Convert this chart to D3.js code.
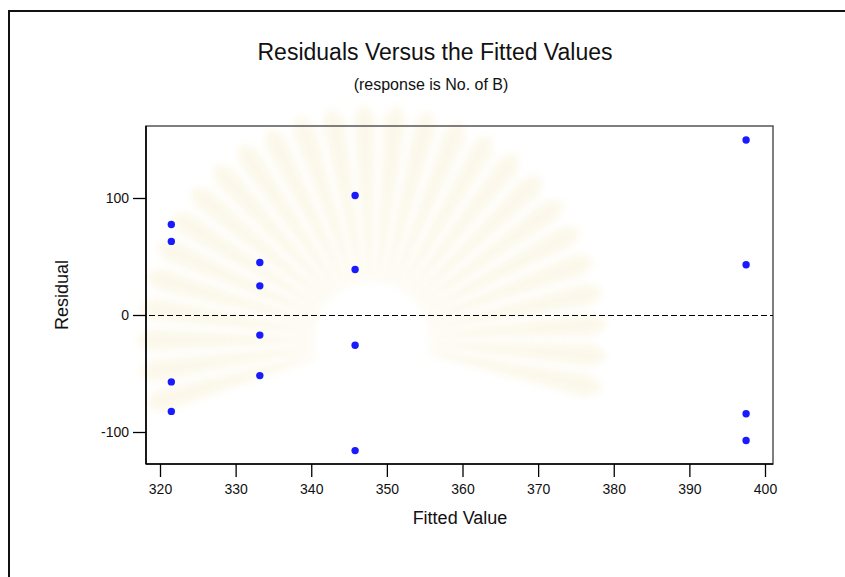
<!DOCTYPE html>
<html>
<head>
<meta charset="utf-8">
<script src="https://cdn.jsdelivr.net/npm/d3@7"></script>
<style>
  html, body { margin: 0; padding: 0; background: #fff; }
  svg { display: block; font-family: "Liberation Sans", Arial, sans-serif; }
</style>
</head>
<body>
<svg id="chart" width="845" height="577"></svg>
<script>
// Fitted values (one per treatment group) and the residuals observed at each
const fittedValues = [321.5, 321.5, 321.5, 321.5,
                      333.2, 333.2, 333.2, 333.2,
                      345.8, 345.8, 345.8, 345.8,
                      397.5, 397.5, 397.5, 397.5];
const residuals    = [77.3, 62.9, -57.2, -82.4,
                      44.9, 24.9, -17.2, -51.8,
                      102.1, 38.9, -25.8, -115.9,
                      149.6, 42.9, -84.4, -107.3];
const xTicks = [320, 330, 340, 350, 360, 370, 380, 390, 400];
const yTicks = [-100, 0, 100];

const titleText = "Residuals Versus the Fitted Values";
const subtitleText = "(response is No. of B)";
const xLabel = "Fitted Value";
const yLabel = "Residual";

const svg = d3.select("#chart");
const plot = { left: 146, top: 126, right: 773, bottom: 464 };

const defs = svg.append("defs");
defs.append("filter").attr("id", "soft")
  .append("feGaussianBlur").attr("stdDeviation", 3.5);

// Page frame
svg.append("rect")
  .attr("x", 9).attr("y", 11)
  .attr("width", 900).attr("height", 700)
  .attr("fill", "#fff").attr("stroke", "#111").attr("stroke-width", 2);

// Faint emblem in the background: a fan of pale rays around a bright disc
const wm = svg.append("g")
  .attr("transform", "translate(372,340)")
  .attr("filter", "url(#soft)")
  .attr("opacity", 0.4);
const rays = d3.range(-196, 17, 8);
wm.selectAll("path.ray").data(rays).join("path")
  .attr("class", "ray")
  .attr("d", a => {
    const r0 = 58, r1 = 250, hw = 3.0;
    const t = a * Math.PI / 180;
    const p = (r, da) => [Math.cos(t + da * Math.PI / 180) * r, Math.sin(t + da * Math.PI / 180) * r];
    const [x0, y0] = p(r0, -hw * 0.7), [x1, y1] = p(r1 * 0.88, -hw);
    const [x2, y2] = p(r1, 0), [x3, y3] = p(r1 * 0.88, hw), [x4, y4] = p(r0, hw * 0.7);
    return `M${x0},${y0}L${x1},${y1}Q${x2},${y2} ${x3},${y3}L${x4},${y4}Z`;
  })
  .attr("fill", "#f7efcf");

const x = d3.scaleLinear().domain([320, 400]).range([160, 765]);
const y = d3.scaleLinear().domain([0, 100]).range([315, 198]);

// Plot frame
svg.append("rect")
  .attr("x", plot.left).attr("y", plot.top)
  .attr("width", plot.right - plot.left).attr("height", plot.bottom - plot.top)
  .attr("fill", "none").attr("stroke", "#555").attr("stroke-width", 1.5);

// Reference line at zero residual
svg.append("line")
  .attr("x1", plot.left - 6).attr("x2", plot.right)
  .attr("y1", Math.round(y(0)) + 0.5).attr("y2", Math.round(y(0)) + 0.5)
  .attr("stroke", "#000").attr("stroke-width", 1)
  .attr("stroke-dasharray", "6,3");

// Axes (plain hyphen for negative labels)
const plain = d => String(d);
const xAxis = d3.axisBottom(x).tickValues(xTicks).tickFormat(plain)
  .tickSize(13).tickPadding(7).tickSizeOuter(0);
const gx = svg.append("g").attr("transform", `translate(0,${plot.bottom})`).call(xAxis);
gx.select(".domain").attr("d", `M${plot.left},0H${plot.right}`).attr("stroke", "#000").attr("stroke-width", 1.6);

const yAxis = d3.axisLeft(y).tickValues(yTicks).tickFormat(plain)
  .tickSize(13).tickPadding(4).tickSizeOuter(0);
const gy = svg.append("g").attr("transform", `translate(${plot.left},0)`).call(yAxis);
gy.select(".domain").attr("d", `M0,${plot.top}V${plot.bottom}`).attr("stroke", "#000").attr("stroke-width", 1.6);

[gx, gy].forEach(g => {
  g.selectAll(".tick line").attr("stroke", "#000").attr("stroke-width", 1.3);
  g.selectAll(".tick text").attr("font-size", 14).attr("fill", "#111")
    .attr("font-family", "'Liberation Sans', Arial, sans-serif");
});

// Points
svg.append("g").selectAll("circle")
  .data(fittedValues.map((f, i) => ({ f, r: residuals[i] })))
  .join("circle")
  .attr("cx", d => x(d.f)).attr("cy", d => y(d.r))
  .attr("r", 3.7).attr("fill", "#1a1aff");

// Titles and axis labels
svg.append("text").attr("x", 435).attr("y", 60)
  .attr("text-anchor", "middle").attr("font-size", 23).attr("fill", "#111")
  .text(titleText);
svg.append("text").attr("x", 431).attr("y", 90)
  .attr("text-anchor", "middle").attr("font-size", 16).attr("fill", "#111")
  .text(subtitleText);
svg.append("text").attr("x", 460).attr("y", 524)
  .attr("text-anchor", "middle").attr("font-size", 18).attr("fill", "#111")
  .text(xLabel);
svg.append("text")
  .attr("transform", `translate(68,${(plot.top + plot.bottom) / 2}) rotate(-90)`)
  .attr("text-anchor", "middle").attr("font-size", 18).attr("fill", "#111")
  .text(yLabel);
</script>
</body>
</html>
